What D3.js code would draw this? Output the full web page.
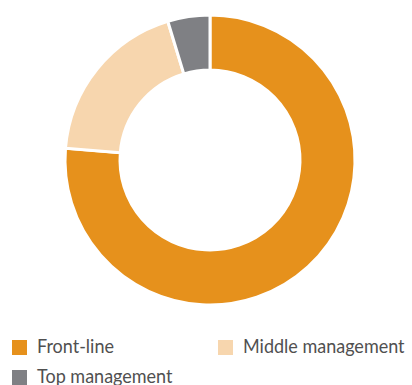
<!DOCTYPE html>
<html>
<head>
<meta charset="UTF-8">
<title>Donut</title>
<script src="https://cdn.jsdelivr.net/npm/d3@7"></script>
<style>
* { margin: 0; padding: 0; }
body { background: #fff; }
#chart { display: block; }
</style>
</head>
<body>
<svg id="chart"></svg>
<script>
const categories = ["Front-line", "Middle management", "Top management"];
const values = [76.3, 19, 4.7];
const colors = ["#E6911C", "#F7D6AE", "#7F8084"];

(function() {
    const width = 412, height = 385;
    const cx = 210, cy = 160, outerR = 145, innerR = 90;

    const svg = d3.select("#chart").attr("width", width).attr("height", height);

    const data = categories.map((c, i) => ({ name: c, value: values[i], color: colors[i] }));
    const pie = d3.pie().value(d => d.value).sort(null);
    const arc = d3.arc().innerRadius(innerR).outerRadius(outerR);

    svg.append("g")
        .attr("transform", `translate(${cx},${cy})`)
        .selectAll("path")
        .data(pie(data))
        .enter()
        .append("path")
        .attr("d", arc)
        .style("fill", d => d.data.color)
        .style("stroke", "#fff")
        .style("stroke-width", "3px");

    // legend (text squeezed a bit to match the narrow original face)
    const pos = [[12, 340], [218, 340], [12, 370]];
    const leg = svg.selectAll(".leg")
        .data(data)
        .enter()
        .append("g")
        .attr("class", "leg")
        .attr("transform", (d, i) => `translate(${pos[i][0]},${pos[i][1]})`);
    leg.append("rect")
        .attr("width", 15).attr("height", 15)
        .style("fill", d => d.color);
    leg.append("text")
        .attr("x", 25).attr("y", 13)
        .text(d => d.name)
        .style("font-family", "Lato, sans-serif")
        .style("font-size", "20px")
        .style("fill", "#505050")
        .each(function() {
            const w = this.getComputedTextLength();
            d3.select(this).attr("textLength", w * 0.9).attr("lengthAdjust", "spacingAndGlyphs");
        });
})();
</script>
</body>
</html>
